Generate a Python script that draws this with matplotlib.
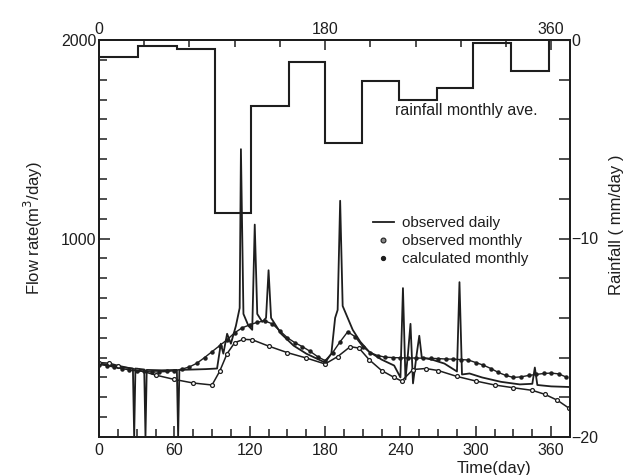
# Import packages and libraries
from matplotlib import pyplot as plt
from matplotlib.lines import Line2D
from matplotlib.ticker import MultipleLocator, FixedLocator

plt.rcParams['font.family'] = ['Liberation Sans', 'DejaVu Sans']

# Monthly average rainfall (mm/day, drawn downward from the top)
rain_edges = [0, 31, 62, 92, 121, 151, 180, 209, 239, 269, 298, 328, 358, 375]
rain_values = [-0.85, -0.3, -0.45, -8.7, -3.35, -1.1, -5.2, -2.05, -3.0, -2.4, -0.15, -1.55, 0.0]

# Observed daily flow rate (m3/day)
daily_days = [0, 10, 20, 27, 28, 29, 36, 37, 38, 50, 62, 63, 64, 75, 85, 94, 97, 99, 102,
              105, 109, 112, 113, 115, 119, 122, 124, 126, 130, 133, 135, 137, 145, 155,
              165, 175, 180, 185, 188, 190, 192, 194, 198, 202, 208, 215, 225, 235, 240,
              242, 244, 246, 248, 250, 253, 255, 257, 265, 275, 285, 287, 289, 295, 305,
              320, 335, 345, 347, 349, 360, 374]
daily_flow = [370, 362, 350, 345, 0, 345, 340, 0, 338, 336, 338, 0, 338, 340, 342, 345, 470,
              420, 520, 470, 560, 650, 1450, 620, 560, 540, 1070, 620, 580, 600, 840, 600, 520,
              460, 420, 390, 375, 420, 600, 640, 1190, 660, 600, 540, 480, 430, 390, 360, 300,
              750, 290, 420, 570, 270, 420, 510, 400, 390, 370, 330, 780, 315, 320, 300,
              278, 265, 268, 350, 262, 255, 252]

# Observed monthly flow rate (m3/day)
obs_m_days = [0, 8, 15, 30, 45, 60, 75, 90, 96, 102, 108, 115, 122, 135, 150, 165, 180, 190,
              200, 207, 215, 225, 235, 241, 250, 260, 270, 285, 300, 315, 330, 345, 355, 365, 374]
obs_m_flow = [375, 372, 360, 340, 312, 290, 272, 262, 330, 420, 475, 492, 490, 458, 425, 398,
              368, 405, 455, 448, 390, 335, 300, 282, 340, 345, 335, 305, 282, 262, 248, 235,
              215, 185, 146]

# Calculated monthly flow rate (m3/day)
calc_days = [0, 6, 12, 18, 24, 30, 36, 42, 48, 54, 60, 66, 72, 78, 84, 90, 96, 102, 108, 114,
             120, 126, 132, 138, 144, 150, 156, 162, 168, 174, 180, 186, 192, 198, 204, 210,
             216, 222, 228, 234, 240, 246, 252, 258, 264, 270, 276, 282, 288, 294, 300, 306,
             312, 318, 324, 330, 336, 342, 348, 354, 360, 366, 372]
calc_flow = [365, 360, 352, 345, 338, 333, 330, 328, 328, 330, 334, 342, 353, 372, 400, 430,
             460, 490, 525, 550, 565, 578, 585, 570, 535, 500, 475, 455, 432, 405, 385, 425,
             480, 530, 505, 455, 425, 410, 402, 400, 399, 398, 398, 397, 396, 395, 393, 392,
             390, 388, 375, 362, 345, 325, 310, 300, 303, 310, 315, 320, 322, 318, 302]

ink = '#1e1e1e'

fig = plt.figure(figsize=(6.26, 4.75), dpi=100)
ax = fig.add_axes([99 / 626, 1 - 437 / 475, 471 / 626, 397 / 475])

# Flow curves
ax.plot(daily_days, daily_flow, color=ink, lw=1.3)
ax.plot(obs_m_days, obs_m_flow, color=ink, lw=1.1, marker='o', ms=2.8,
        mfc='white', mec=ink, mew=0.9)
ax.plot(calc_days, calc_flow, color=ink, lw=1.0, marker='o', ms=2.2, mfc=ink, mec=ink)

ax.set_xlim(0, 375)
ax.set_ylim(0, 2000)
ax.xaxis.set_major_locator(FixedLocator([0, 60, 120, 180, 240, 300, 360]))
ax.xaxis.set_minor_locator(MultipleLocator(15))
ax.yaxis.set_major_locator(FixedLocator([0, 1000, 2000]))
ax.yaxis.set_minor_locator(MultipleLocator(100))
ax.set_yticklabels(['', '1000', '2000'])
ax.tick_params(which='both', direction='in', color=ink, width=1.1, labelsize=11.5,
               labelcolor=ink)
ax.tick_params(which='major', length=8)
ax.tick_params(which='minor', length=6)
ax.tick_params(axis='x', pad=4)
ax.tick_params(axis='y', pad=2)
for sp in ax.spines.values():
    sp.set_linewidth(1.4)
    sp.set_color(ink)

# Top day axis
top = ax.secondary_xaxis('top')
top.xaxis.set_major_locator(FixedLocator([0, 180, 360]))
top.xaxis.set_minor_locator(MultipleLocator(36))
top.tick_params(which='both', direction='in', color=ink, width=1.1, labelsize=11.5,
                labelcolor=ink, pad=2)
top.tick_params(which='major', length=7)
top.tick_params(which='minor', length=5)
top.spines['top'].set_linewidth(1.4)

# Rainfall axis on the right
ax2 = ax.twinx()
ax2.stairs(rain_values, rain_edges, baseline=None, color=ink, lw=1.5)
ax2.set_ylim(-20, 0)
ax2.yaxis.set_major_locator(FixedLocator([-20, -10, 0]))
ax2.yaxis.set_minor_locator(MultipleLocator(2))
ax2.tick_params(which='both', direction='in', color=ink, width=1.1, labelsize=11.5,
                labelcolor=ink, pad=1)
ax2.tick_params(which='major', length=8)
ax2.tick_params(which='minor', length=8)
for sp in ax2.spines.values():
    sp.set_linewidth(1.4)
    sp.set_color(ink)

ax2.text(236, -3.55, 'rainfall monthly ave.', fontsize=11.5, color=ink, va='center')

# Legend
handles = [Line2D([], [], color=ink, lw=1.3),
           Line2D([], [], ls='none', marker='o', ms=3.5, mfc='#888888', mec=ink, mew=0.8),
           Line2D([], [], ls='none', marker='o', ms=2.8, mfc=ink, mec=ink)]
ax.legend(handles, ['observed daily', 'observed monthly', 'calculated monthly'],
          loc='upper left', bbox_to_anchor=(0.565, 0.575), frameon=False, fontsize=11,
          handlelength=1.4, handletextpad=0.5, labelspacing=0.25, borderpad=0,
          labelcolor=ink)

# Axis labels
fig.text(33 / 626, 1 - 228 / 475, 'Flow rate(m$^3$/day)', rotation=90, ha='center',
         va='center', fontsize=12, color=ink)
fig.text(617 / 626, 1 - 225 / 475, 'Rainfall ( mm/day )', rotation=90, ha='center',
         va='center', fontsize=12, color=ink)
fig.text(494 / 626, 1 - 461 / 475, 'Time(day)', ha='center', va='top', fontsize=12,
         color=ink)

plt.savefig('out.png', dpi=100)
plt.close()
